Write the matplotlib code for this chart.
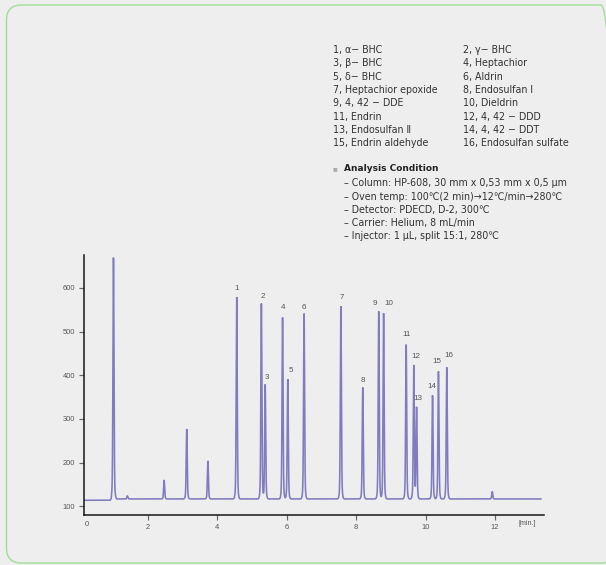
import numpy as np
import matplotlib.pyplot as plt
from matplotlib.patches import FancyBboxPatch
from matplotlib.transforms import IdentityTransform

# retention time (min) and apex response of every peak in the trace
peak_times = [1.01, 1.41, 2.47, 3.12, 3.73,
              4.56, 5.27, 5.38, 5.88, 6.03, 6.50, 7.56, 8.19,
              8.65, 8.79, 9.44, 9.66, 9.74, 10.20, 10.37, 10.61, 11.92]
peak_apex = [669, 124, 160, 277, 204,
             579, 564, 379, 532, 391, 541, 558, 372,
             546, 542, 470, 423, 327, 354, 409, 418, 134]
# which of them carry a compound number (0 = unlabeled)
peak_ids = [0, 0, 0, 0, 0,
            1, 2, 3, 4, 5, 6, 7, 8,
            9, 10, 11, 12, 13, 14, 15, 16, 0]

run_start = 0.17
run_end = 13.32
base_before = 114
base_after = 117

compounds = ["1, α− BHC", "2, γ− BHC",
             "3, β− BHC", "4, Heptachior",
             "5, δ− BHC", "6, Aldrin",
             "7, Heptachior epoxide", "8, Endosulfan Ⅰ",
             "9, 4, 42 − DDE", "10, Dieldrin",
             "11, Endrin", "12, 4, 42 − DDD",
             "13, Endosulfan Ⅱ", "14, 4, 42 − DDT",
             "15, Endrin aldehyde", "16, Endosulfan sulfate"]

conditions = ["– Column: HP-608, 30 mm x 0,53 mm x 0,5 μm",
              "– Oven temp: 100℃(2 min)→12℃/min→280℃",
              "– Detector: PDECD, D-2, 300℃",
              "– Carrier: Helium, 8 mL/min",
              "– Injector: 1 μL, split 15:1, 280℃"]

yticks = [100, 200, 300, 400, 500, 600]
xticks = [2, 4, 6, 8, 10, 12]

# little nudges for the peak numbers (points right, points up)
label_offsets = {1: (0, 8.4), 2: (1.4, 7.3), 3: (2, 7), 4: (0.6, 9.6),
                 5: (3, 8.3), 6: (0, 6.3), 7: (1, 8.3), 8: (-0.3, 6.6),
                 9: (-4, 8), 10: (5, 9.7), 11: (0.7, 10.3), 12: (2.3, 9),
                 13: (1.6, 9), 14: (-0.7, 9.3), 15: (-1.3, 9.3), 16: (2.6, 12.3)}

W, H = 606, 565
fig = plt.figure(figsize=(W / 72, H / 72), dpi=72)
fig.patch.set_facecolor('#eeeeee')

frame = FancyBboxPatch((6.5, H - 563), 616 - 6.5, 563 - 5,
                       boxstyle="round,pad=0,rounding_size=15",
                       transform=IdentityTransform(),
                       facecolor='none', edgecolor='#a3dc9c', linewidth=1.4)
fig.add_artist(frame)

ax = fig.add_axes([84.3 / W, 1 - 514.7 / H, (544 - 84.3) / W, (514.7 - 255) / H])
ax.set_facecolor('none')

t = np.arange(run_start, run_end, 0.001)
base = np.where(t < 0.95, base_before, base_after)
signal = base.astype(float)
# each peak: sharp core plus a low, slightly wider foot
for pt, pa in zip(peak_times, peak_apex):
    b = base_before if pt < 0.95 else base_after
    h = pa - b
    core = np.exp(-0.5 * ((t - pt) / 0.014) ** 2)
    foot = np.exp(-0.5 * ((t - pt) / 0.03) ** 2)
    signal = signal + h * (0.9 * core + 0.1 * foot)

ax.plot(t, signal, color='#807cbf', lw=1.6, solid_joinstyle='miter')

for pt, pa, pid in zip(peak_times, peak_apex, peak_ids):
    if pid == 0:
        continue
    dx, dy = label_offsets[pid]
    ax.annotate(str(pid), xy=(pt, pa), xytext=(dx, dy), textcoords='offset points',
                ha='center', va='center', fontsize=8, color='#555555',
                family='Liberation Sans')

ax.set_xlim(run_start, 13.41)
ax.set_ylim(81, 675)
for s in ['top', 'right']:
    ax.spines[s].set_visible(False)
for s in ['left', 'bottom']:
    ax.spines[s].set_linewidth(1.5)
    ax.spines[s].set_color('#111111')

ax.set_yticks(yticks)
ax.set_xticks(xticks)
ax.tick_params(direction='out', length=5, width=1.2, color='#666666',
               labelsize=7.5, labelcolor='#555555', pad=4)
for lab in ax.get_xticklabels() + ax.get_yticklabels():
    lab.set_family('Liberation Sans')
ax.text(0.24, -0.037, "0", transform=ax.get_xaxis_transform(), ha='center', va='center',
        fontsize=7.5, color='#555555', family='Liberation Sans')
ax.text(12.94, -0.035, "[min.]", transform=ax.get_xaxis_transform(), ha='center', va='center',
        fontsize=7, color='#555555', family='Liberation Sans')

fam = ['DejaVu Sans', 'Noto Sans CJK KR']
for i, name in enumerate(compounds):
    col = i % 2
    row = i // 2
    x = 332.7 if col == 0 else 463.3
    y = 50 + row * 13.33
    fig.text(x / W, 1 - y / H, name, ha='left', va='center', fontsize=9.5,
             color='#333333', family=fam)

fig.text(335 / W, 1 - 168.3 / H, "■", ha='center', va='center', fontsize=5,
         color='#aaaaaa', family=fam)
fig.text(344 / W, 1 - 168.3 / H, "Analysis Condition", ha='left', va='center',
         fontsize=9, fontweight='bold', color='#222222', family=fam)
for i, line in enumerate(conditions):
    fig.text(344 / W, 1 - (183.3 + i * 13.2) / H, line, ha='left', va='center',
             fontsize=9.5, color='#333333', family=fam)

fig.savefig('out.png', dpi=72, facecolor=fig.get_facecolor())
